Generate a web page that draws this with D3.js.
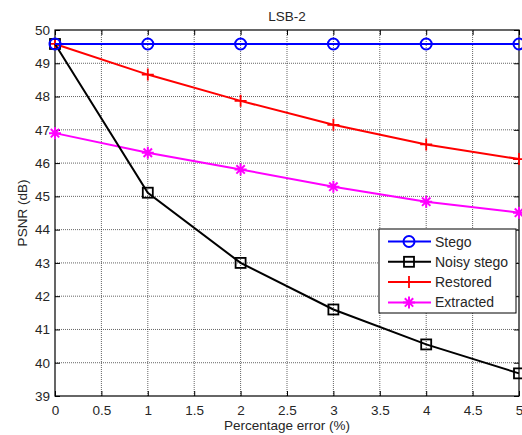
<!DOCTYPE html>
<html>
<head>
<meta charset="utf-8">
<script src="https://cdn.jsdelivr.net/npm/d3@7"></script>
<style>
  body { margin: 0; background: #fff; }
  text { font-family: "Liberation Sans", Arial, sans-serif; fill: #262626; }
</style>
</head>
<body>
<div id="container"></div>
<script>
// DATA
const errors = [0, 1, 2, 3, 4, 5];
const stego = [49.58, 49.58, 49.58, 49.58, 49.58, 49.58];
const noisyStego = [49.58, 45.11, 43.0, 41.6, 40.55, 39.68];
const restored = [49.58, 48.66, 47.87, 47.15, 46.56, 46.12];
const extracted = [46.9, 46.31, 45.81, 45.29, 44.84, 44.51];
const xTicks = [0, 0.5, 1, 1.5, 2, 2.5, 3, 3.5, 4, 4.5, 5];
const yTicks = [39, 40, 41, 42, 43, 44, 45, 46, 47, 48, 49, 50];

const series = [
  { name: "Stego", values: stego, color: "#0000ff", marker: "circle" },
  { name: "Noisy stego", values: noisyStego, color: "#000000", marker: "square" },
  { name: "Restored", values: restored, color: "#ff0000", marker: "plus" },
  { name: "Extracted", values: extracted, color: "#ff00ff", marker: "star" }
];

// CONSTANTS
const width = 522, height = 435,
  margin = { top: 30, bottom: 39, left: 55, right: 3 },
  fontSize = 13.5;

const xScale = d3.scaleLinear()
  .domain([0, 5])
  .range([margin.left, width - margin.right]);

const yScale = d3.scaleLinear()
  .domain([39, 50])
  .range([height - margin.bottom, margin.top]);

const svg = d3.select("#container")
  .append("svg")
  .attr("width", width)
  .attr("height", height);

// GRID
const grid = svg.append("g").attr("stroke", "#222").attr("stroke-width", 0.7)
  .attr("stroke-dasharray", "1,1");
grid.selectAll(".gx").data(xTicks.slice(1, -1)).join("line")
  .attr("x1", d => xScale(d)).attr("x2", d => xScale(d))
  .attr("y1", yScale(39)).attr("y2", yScale(50));
grid.selectAll(".gy").data(yTicks.slice(1, -1)).join("line")
  .attr("x1", xScale(0)).attr("x2", xScale(5))
  .attr("y1", d => yScale(d)).attr("y2", d => yScale(d));

// AXES
const xAxis = d3.axisBottom(xScale).tickValues(xTicks).tickSize(-5).tickPadding(9)
  .tickFormat(d3.format("~g"));
const yAxis = d3.axisLeft(yScale).tickValues(yTicks).tickSize(-5).tickPadding(5)
  .tickFormat(d3.format("d"));

svg.append("g")
  .attr("transform", `translate(0, ${yScale(39)})`)
  .call(xAxis)
  .call(g => g.select(".domain").remove());
svg.append("g")
  .attr("transform", `translate(0, ${yScale(50)})`)
  .call(d3.axisTop(xScale).tickValues(xTicks).tickSize(-5).tickFormat(""))
  .call(g => g.select(".domain").remove());
svg.append("g")
  .attr("transform", `translate(${xScale(0)}, 0)`)
  .call(yAxis)
  .call(g => g.select(".domain").remove());
svg.append("g")
  .attr("transform", `translate(${xScale(5)}, 0)`)
  .call(d3.axisRight(yScale).tickValues(yTicks).tickSize(-5).tickFormat(""))
  .call(g => g.select(".domain").remove());

svg.selectAll(".tick text").attr("font-size", fontSize).attr("fill", "#262626")
  .attr("font-family", "'Liberation Sans', Arial, sans-serif");
svg.selectAll(".tick line").attr("stroke", "#000");

svg.append("rect")
  .attr("x", xScale(0)).attr("y", yScale(50))
  .attr("width", xScale(5) - xScale(0)).attr("height", yScale(39) - yScale(50))
  .attr("fill", "none").attr("stroke", "#000").attr("stroke-width", 1.2);

// LABELS
svg.append("text").attr("x", (xScale(0) + xScale(5)) / 2).attr("y", 21)
  .attr("text-anchor", "middle").attr("font-size", fontSize).text("LSB-2");
svg.append("text").attr("x", (xScale(0) + xScale(5)) / 2).attr("y", 430)
  .attr("text-anchor", "middle").attr("font-size", fontSize).text("Percentage error (%)");
svg.append("text")
  .attr("transform", `translate(27, ${(yScale(39) + yScale(50)) / 2}) rotate(-90)`)
  .attr("text-anchor", "middle").attr("font-size", fontSize).text("PSNR (dB)");

// MARKERS
function drawMarker(g, type, color) {
  if (type === "circle") {
    g.append("circle").attr("r", 5.5).attr("fill", "none").attr("stroke", color).attr("stroke-width", 2);
  } else if (type === "square") {
    g.append("rect").attr("x", -5).attr("y", -5).attr("width", 10).attr("height", 10)
      .attr("fill", "none").attr("stroke", color).attr("stroke-width", 1.8);
  } else if (type === "plus") {
    g.append("path").attr("d", "M-6,0H6M0,-6V6").attr("stroke", color).attr("stroke-width", 1.8);
  } else if (type === "star") {
    g.append("path").attr("d", "M-6,0H6M0,-6V6M-4.2,-4.2L4.2,4.2M-4.2,4.2L4.2,-4.2")
      .attr("stroke", color).attr("stroke-width", 2);
  }
}

const line = d3.line()
  .x((d, i) => xScale(errors[i]))
  .y(d => yScale(d));

// draw in reverse so Stego sits on top
series.slice().reverse().forEach(s => {
  svg.append("path")
    .datum(s.values)
    .attr("fill", "none")
    .attr("stroke", s.color)
    .attr("stroke-width", 2)
    .attr("d", line);
  s.values.forEach((v, i) => {
    const g = svg.append("g").attr("transform", `translate(${xScale(errors[i])}, ${yScale(v)})`);
    drawMarker(g, s.marker, s.color);
  });
});

// LEGEND
const legend = svg.append("g").attr("transform", "translate(379, 229)");
legend.append("rect").attr("width", 137).attr("height", 84)
  .attr("fill", "#fff").attr("stroke", "#000").attr("stroke-width", 1);
series.forEach((s, i) => {
  const row = legend.append("g").attr("transform", `translate(0, ${12.5 + i * 20.3})`);
  row.append("line").attr("x1", 9).attr("x2", 52).attr("stroke", s.color).attr("stroke-width", 2);
  drawMarker(row.append("g").attr("transform", "translate(30, 0)"), s.marker, s.color);
  row.append("text").attr("x", 56).attr("y", 5).attr("font-size", 14).text(s.name);
});
</script>
</body>
</html>
